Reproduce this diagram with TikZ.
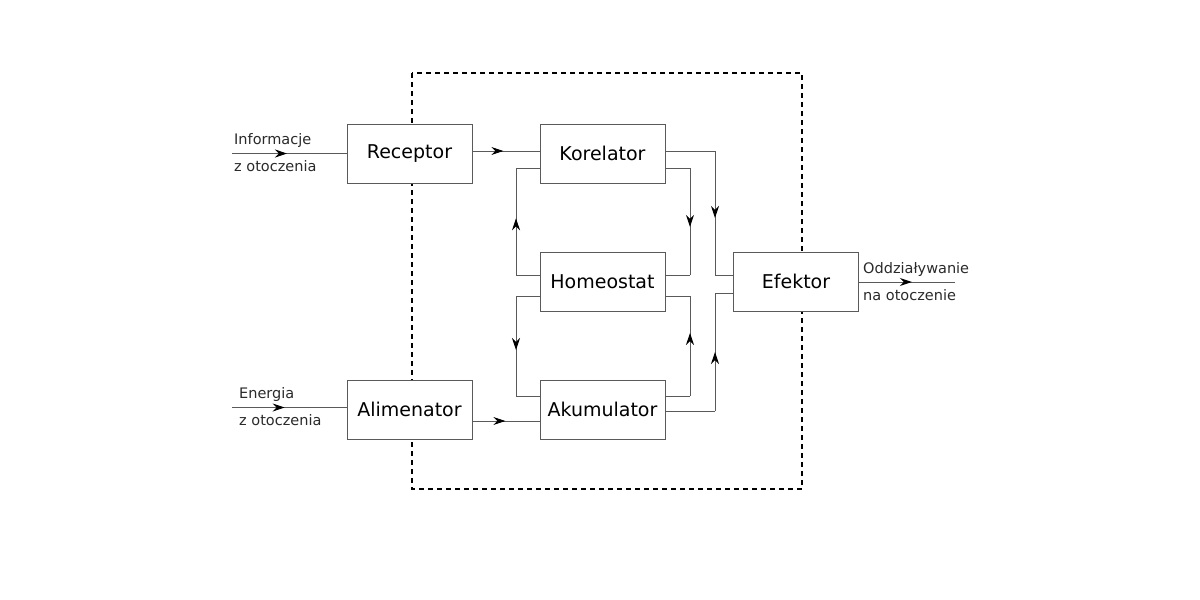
\documentclass[tikz,border=0pt]{standalone}
\usepackage{fontspec}
\setmainfont{DejaVu Sans}
\usetikzlibrary{arrows.meta,decorations.markings}
\definecolor{ln}{HTML}{5A5A5A}
\definecolor{tx}{HTML}{2A2A2A}
\tikzset{
  blk/.style={draw=ln, line width=0.9pt, minimum width=125pt, minimum height=59pt, inner sep=0pt, text=black, font=\fontsize{19}{21}\selectfont},
  conn/.style={draw=ln, line width=0.9pt},
  marr/.style={decoration={markings, mark=at position #1 with {\arrow[black]{Stealth[length=12pt,width=8pt,inset=4pt]}}}, postaction={decorate}},
  lbl/.style={anchor=west, inner sep=0pt, text=tx, font=\fontsize{14.5}{16}\selectfont}
}
\begin{document}
\begin{tikzpicture}[x=1pt,y=-1pt]
\useasboundingbox[fill=white] (0,0) rectangle (1200,600);
% dashed frame
\draw[black, line width=1.2pt, dash pattern=on 5pt off 4pt] (412,73) rectangle (802,489);
% blocks
\node[blk, fill=white] (rec) at (409.5,153.5) {Receptor};
\node[blk, fill=white] (ali) at (409.5,409.5) {Alimenator};
\node[blk] (kor) at (602.5,153.5) {Korelator};
\node[blk] (hom) at (602.5,281.5) {Homeostat};
\node[blk] (aku) at (602.5,409.5) {Akumulator};
\node[blk, fill=white] (efe) at (796,281.5) {Efektor};
% inputs
\coordinate (inA) at (232,153.5);
\coordinate (inB) at (232,407.5);
\draw[conn, marr=0.48] (inA) -- (rec.west);
\draw[conn, marr=0.46] (inB) -- ([yshift=2pt]ali.west);
\node[lbl] (t1) at (234,140) {Informacje};
\node[lbl] (t2) at (234,166) {z otoczenia};
\node[lbl] (t3) at (239,394) {Energia};
\node[lbl] (t4) at (239,420) {z otoczenia};
% receptor -> korelator
\draw[conn, marr=0.46] ([yshift=2.5pt]rec.east) -- ([yshift=2.5pt]kor.west);
% alimenator -> akumulator
\draw[conn, marr=0.49] ([yshift=-11.5pt]ali.east) -- ([yshift=-11.5pt]aku.west);
% helper coordinates
\coordinate (a1) at (715,151);
\coordinate (a2) at (715,275);
\coordinate (b1) at (690,168);
\coordinate (b2) at (690,275);
\coordinate (c1) at (516,168);
\coordinate (c2) at (516,275);
\coordinate (d1) at (516,296);
\coordinate (d2) at (516,396);
\coordinate (e1) at (690,296);
\coordinate (e2) at (690,396);
\coordinate (f1) at (715,411);
\coordinate (f2) at (715,293);
% korelator -> efektor
\draw[conn] ([yshift=2.5pt]kor.east) -- (a1);
\draw[conn, marr=0.54] (a1) -- (a2);
\draw[conn] (a2) -- ([yshift=6.5pt]efe.west);
% korelator -> homeostat (right)
\draw[conn] ([yshift=-14.5pt]kor.east) -- (b1);
\draw[conn, marr=0.55] (b1) -- (b2);
\draw[conn] (b2) -- ([yshift=6.5pt]hom.east);
% homeostat -> korelator (left)
\draw[conn] ([yshift=6.5pt]hom.west) -- (c2);
\draw[conn, marr=0.53] (c2) -- (c1);
\draw[conn] (c1) -- ([yshift=-14.5pt]kor.west);
% homeostat -> akumulator (left)
\draw[conn] ([yshift=-14.5pt]hom.west) -- (d1);
\draw[conn, marr=0.54] (d1) -- (d2);
\draw[conn] (d2) -- ([yshift=13.5pt]aku.west);
% akumulator -> homeostat (right)
\draw[conn] ([yshift=13.5pt]aku.east) -- (e2);
\draw[conn, marr=0.63] (e2) -- (e1);
\draw[conn] (e1) -- ([yshift=-14.5pt]hom.east);
% akumulator -> efektor
\draw[conn] ([yshift=-1.5pt]aku.east) -- (f1);
\draw[conn, marr=0.5] (f1) -- (f2);
\draw[conn] (f2) -- ([yshift=-11.5pt]efe.west);
% output
\coordinate (out) at (955,282);
\draw[conn, marr=0.55] ([yshift=-0.5pt]efe.east) -- (out);
\node[lbl] (t5) at (863,269) {Oddziaływanie};
\node[lbl] (t6) at (863,295) {na otoczenie};
\end{tikzpicture}
\end{document}
